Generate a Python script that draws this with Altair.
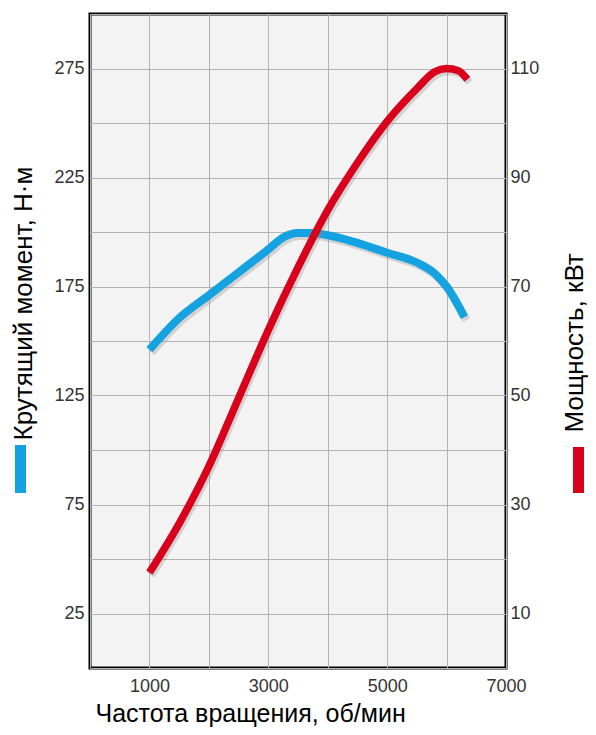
import altair as alt
import pandas as pd

# Torque curve (N·m) vs engine speed (rpm)
rpm_torque = [1000, 1500, 2000, 2500, 3000, 3250, 3500, 3750, 4000, 4250, 4500, 5000, 5500, 5800, 6000, 6300]
torque = [146, 160.5, 171, 181.5, 192, 197.5, 199.5, 199.5, 198.5, 197, 195, 190.5, 186, 181, 175, 161]

# Power curve (kW) vs engine speed (rpm)
rpm_power = [1000, 1500, 2000, 2500, 3000, 3500, 4000, 4500, 5000, 5500, 5800, 6000, 6200, 6350]
power = [17.5, 26.5, 37, 49.5, 62, 73.5, 84, 92.7, 100.3, 106.3, 109.4, 110, 109.6, 108]

x_ticks = [0, 1000, 2000, 3000, 4000, 5000, 6000, 7000]
torque_ticks = [0, 25, 50, 75, 100, 125, 150, 175, 200, 225, 250, 275, 300]
power_ticks = [10, 30, 50, 70, 90, 110]

BLUE = "#14a3e0"
RED = "#d9001c"
FONT = "Liberation Sans"

df_t = pd.DataFrame({"rpm": rpm_torque, "torque": torque})
df_p = pd.DataFrame({"rpm": rpm_power, "power": power})

x_enc = alt.X(
    "rpm:Q",
    scale=alt.Scale(domain=[0, 7000], nice=False, zero=False),
    axis=alt.Axis(
        values=x_ticks,
        format="d",
        labelExpr="datum.value % 2000 == 1000 ? datum.label : ''",
        grid=True, ticks=False, domain=False,
        labelPadding=9, labelFlush=False, labelOverlap=False,
        labelFontSize=18, labelColor="#333333", labelFont=FONT,
        title="Частота вращения, об/мин",
        titleFont=FONT, titleFontSize=25, titleFontWeight="normal", titleColor="#000000",
        titleAlign="left", titleBaseline="alphabetic", titleX=5, titleY=53, titleAngle=0,
    ),
)

y_t = alt.Y(
    "torque:Q",
    scale=alt.Scale(domain=[0, 300], nice=False),
    axis=alt.Axis(
        orient="left",
        values=torque_ticks,
        labelExpr="datum.value % 50 == 25 ? datum.label : ''",
        grid=True, ticks=False, domain=False,
        labelPadding=6, labelOverlap=False,
        labelFontSize=18, labelColor="#333333", labelFont=FONT,
        title="Крутящий момент, Н·м",
        titleFont=FONT, titleFontSize=26, titleFontWeight="normal", titleColor="#000000",
        titleAngle=270, titleAlign="left", titleBaseline="alphabetic",
        titleX=-59, titleY=426,
    ),
)

y_p = alt.Y(
    "power:Q",
    scale=alt.Scale(domain=[0, 120], nice=False),
    axis=alt.Axis(
        orient="right",
        values=power_ticks,
        grid=False, ticks=False, domain=False,
        labelPadding=4, labelOverlap=False,
        labelFontSize=18, labelColor="#333333", labelFont=FONT,
        title="Мощность, кВт",
        titleFont=FONT, titleFontSize=26, titleFontWeight="normal", titleColor="#000000",
        titleAngle=270, titleAlign="left", titleBaseline="alphabetic",
        titleX=76, titleY=418,
    ),
)

t_shadow = alt.Chart(df_t).mark_line(
    interpolate="monotone", strokeWidth=8, color="#888888", opacity=0.3,
    xOffset=2, yOffset=3, strokeCap="butt",
).encode(x=x_enc, y=y_t)
t_line = alt.Chart(df_t).mark_line(
    interpolate="monotone", strokeWidth=8, color=BLUE, strokeCap="butt",
).encode(x=x_enc, y=y_t)

p_shadow = alt.Chart(df_p).mark_line(
    interpolate="monotone", strokeWidth=7.5, color="#888888", opacity=0.3,
    xOffset=2, yOffset=3, strokeCap="butt",
).encode(x=x_enc, y=y_p)
p_line = alt.Chart(df_p).mark_line(
    interpolate="monotone", strokeWidth=7.5, color=RED, strokeCap="butt",
).encode(x=x_enc, y=y_p)

swatch_data = pd.DataFrame({"k": [0]})
blue_swatch = alt.Chart(swatch_data).mark_rect(color=BLUE).encode(
    x=alt.value(-75), x2=alt.value(-64), y=alt.value(431), y2=alt.value(479)
)
red_swatch = alt.Chart(swatch_data).mark_rect(color=RED).encode(
    x=alt.value(483), x2=alt.value(494), y=alt.value(433), y2=alt.value(479)
)

torque_layer = alt.layer(t_shadow, t_line)
power_layer = alt.layer(p_shadow, p_line)

chart = (
    alt.layer(torque_layer, power_layer, blue_swatch, red_swatch)
    .resolve_scale(y="independent")
    .properties(
        width=416,
        height=654,
        autosize=alt.AutoSizeParams(type="none"),
        padding={"left": 82, "top": 6, "right": 82, "bottom": 59},
        background="#ffffff",
    )
    .configure_view(fill="#f3f3f3", stroke="#000000", strokeWidth=3)
    .configure_axis(gridColor="#b3b3b3", gridWidth=1, gridOpacity=1)
)

chart.save("out.html", embed_options={"renderer": "svg", "actions": False})
